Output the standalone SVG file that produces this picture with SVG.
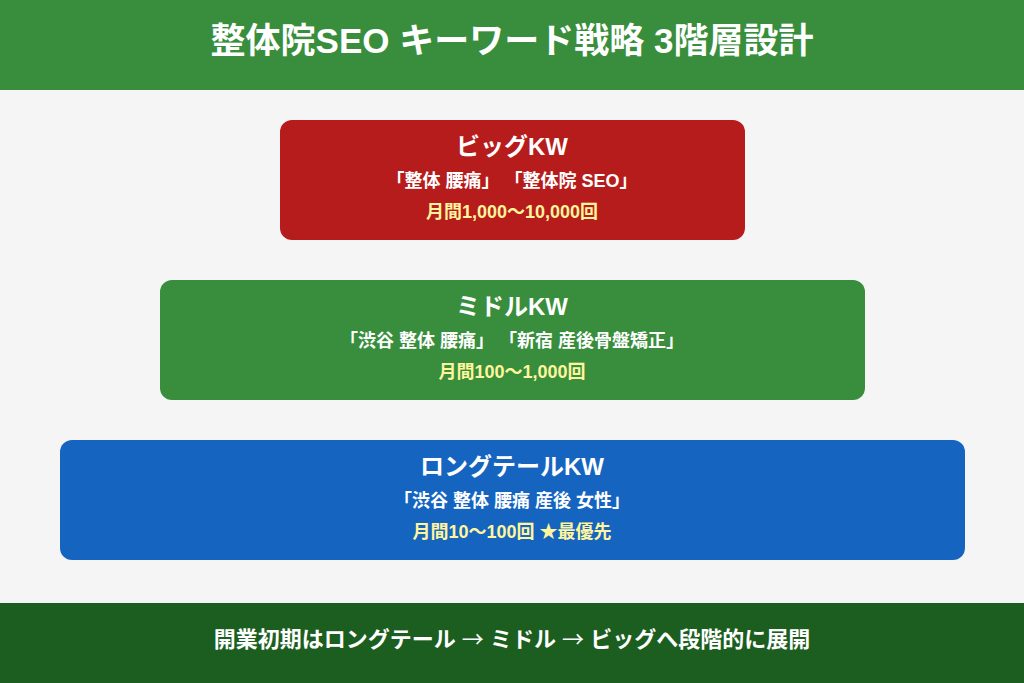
<svg xmlns="http://www.w3.org/2000/svg" width="1024" height="683" viewBox="0 0 1024 683">
<style>
text{font-family:"Liberation Sans","Noto Sans CJK JP",sans-serif;text-anchor:middle;fill:#ffffff;font-weight:bold}
.title{font-size:35px}
.h{font-size:24px}
.kw{font-size:18px}
.vol{font-size:18px;fill:#FFF59D}
.foot{font-size:22px}
.ar{font-family:"Noto Sans CJK JP",sans-serif;font-weight:normal}
</style>
<rect x="0" y="0" width="1024" height="683" fill="#F5F5F5"/>
<g id="header">
<rect x="0" y="0" width="1024" height="90" fill="#388E3C"/>
<text class="title" x="512" y="53">整体院SEO キーワード戦略 3階層設計</text>
</g>
<g id="big">
<rect x="280" y="120" width="465" height="120" rx="12" fill="#B71C1C"/>
<text class="h" x="512" y="155">ビッグKW</text>
<text class="kw" x="512" y="187">「整体 腰痛」 「整体院 SEO」</text>
<text class="vol" x="512" y="218">月間1,000〜10,000回</text>
</g>
<g id="middle">
<rect x="160" y="280" width="705" height="120" rx="12" fill="#388E3C"/>
<text class="h" x="512" y="315">ミドルKW</text>
<text class="kw" x="512" y="347">「渋谷 整体 腰痛」 「新宿 産後骨盤矯正」</text>
<text class="vol" x="512" y="378">月間100〜1,000回</text>
</g>
<g id="longtail">
<rect x="60" y="440" width="905" height="120" rx="12" fill="#1565C0"/>
<text class="h" x="512" y="475">ロングテールKW</text>
<text class="kw" x="512" y="507">「渋谷 整体 腰痛 産後 女性」</text>
<text class="vol" x="512" y="538">月間10〜100回 ★最優先</text>
</g>
<g id="connectors"></g>
<g id="footer">
<rect x="0" y="603" width="1024" height="80" fill="#1B5E20"/>
<text class="foot" x="512" y="647">開業初期はロングテール <tspan class="ar">→</tspan> ミドル <tspan class="ar">→</tspan> ビッグへ段階的に展開</text>
</g>
</svg>
